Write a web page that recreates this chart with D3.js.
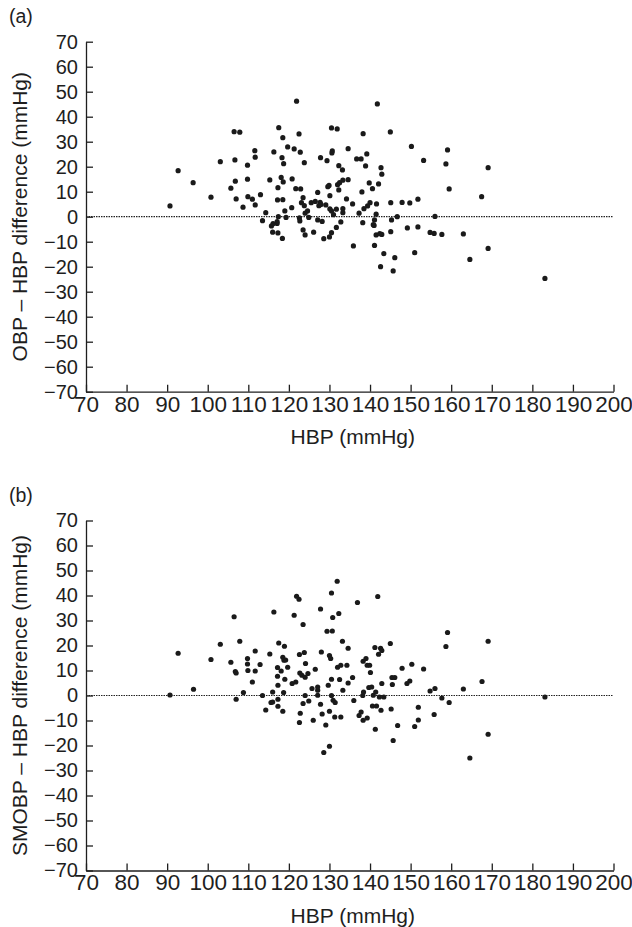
<!DOCTYPE html>
<html lang="en">
<head>
<meta charset="utf-8">
<title>Bland-Altman plots: OBP and SMOBP vs HBP</title>
<script src="https://d3js.org/d3.v7.min.js"></script>
<style>
    body { margin: 0; background: #fff; }
    text { font-family: "Liberation Sans", Arial, Helvetica, sans-serif; fill: #1e1e1e; }
    .axis path, .axis line { stroke: #1e1e1e; stroke-width: 1.3px; }
    .axis.y text { font-size: 20px; }
    .axis.x text { font-size: 22.5px; }
    .zero { stroke: #222; stroke-width: 1.2px; stroke-dasharray: 1.5,1; }
    .dot { fill: #1a1a1a; }
</style>
</head>
<body>
<div id="chart"></div>
<script>
    // tick labels
    const xTicks = [70, 80, 90, 100, 110, 120, 130, 140, 150, 160, 170, 180, 190, 200];
    const yTicks = [-70, -60, -50, -40, -30, -20, -10, 0, 10, 20, 30, 40, 50, 60, 70];

    // (a) OBP - HBP difference, [HBP, difference]
    const obpDiff = [
        [90.7,4.3],[92.7,18.4],[96.4,13.6],[100.8,7.8],[103.1,22],[106.5,34],[107.9,33.8],[106.7,22.7],[109.8,20.6],[111.6,26.4],
        [111.7,23.8],[106.8,14.2],[109.8,15],[105.7,11.4],[107,7.1],[109.9,8],[111,7],[108.7,3.8],[111.7,4.7],[113,8.8],
        [121.9,46.2],[141.8,45.1],[117.5,35.6],[122.5,33.1],[118.5,31.6],[130.5,35.5],[131.9,35.1],[138.3,33.2],[145,33.9],[150.2,28.1],
        [116.3,25.9],[119.7,27.9],[121.3,27.1],[122.8,25.8],[118.3,23.6],[118.7,21.2],[123.8,21.6],[130.7,26.3],[130.6,25.5],[134.6,27.2],
        [127.8,23.6],[129.4,22.4],[136.7,23.1],[137.8,23.1],[139.2,25.1],[138.9,20.3],[142.7,19.6],[142.9,17],[132.3,20.4],[133.2,18.7],
        [115.3,14.7],[118.1,15.7],[118.6,13.9],[117.3,11.6],[120.8,15.1],[121.7,11.2],[122.9,11.1],[117.2,6.7],[118.5,6.8],[119,2.3],
        [120.7,3.6],[123.5,7.6],[123.1,5.6],[123.8,4.4],[125.5,5.6],[126.5,6.1],[127.1,9.7],[127.7,5.7],[127.4,4.4],[127.9,4.9],
        [129.1,4.7],[129.6,12],[129.9,12.5],[130.1,8.4],[132,12.8],[132.5,13.6],[133.3,14.6],[134.6,14.8],[132.3,10.7],[134.2,7.1],
        [135.7,5.1],[138,9.9],[139.8,13.5],[140.6,11.2],[142.1,13.1],[141.6,5.1],[140,5.6],[139.4,4.3],[138.5,3.2],[137.3,1.4],
        [138.2,-2.4],[145.1,5.6],[147.9,5.7],[149.8,5.5],[151.8,7],[146.7,0],[145.3,-1.3],[141.5,1],[141.1,-1.3],[140.8,-3.2],
        [141,-3.5],[141.5,-7.3],[142.4,-6.8],[142.9,-7.1],[145.1,-6],[149.2,-4.5],[151.8,-4.1],[133.3,3.2],[133.3,1.6],[131.7,3],
        [131,0.8],[130.5,2.3],[130.1,3.1],[132.8,-2.1],[131.7,-4.3],[130.5,-6.4],[130,-8.1],[128.6,-8.8],[128.2,-1.9],[127.1,-1.3],
        [126.1,-6.2],[124.9,-0.3],[124.6,2.3],[124,1.4],[124,-7.3],[123.5,-5.3],[122.7,-1.7],[122.6,-0.5],[119.3,-0.3],[117.4,0],
        [117.1,-2],[117.1,-2.7],[116.1,-2.8],[115.7,-3.7],[116,-6.2],[117.3,-6.5],[118.4,-8.7],[113.5,-1.6],[114.3,1.6],
        [159.1,26.7],[153.2,22.5],[158.7,21.1],[169.1,19.6],[159.5,11.1],[167.5,8],[156,0.1],[154.8,-6.3],[155.8,-6.7],[157.7,-7.1],
        [163,-6.9],[151,-14.4],[169.1,-12.7],[164.6,-17.1],[183.1,-24.7],
        [135.9,-11.7],[141.1,-11.5],[143.4,-14.8],[146.1,-16.4],[142.6,-20],[145.7,-21.7]
    ];

    // (b) SMOBP - HBP difference, [HBP, difference]
    const smobpDiff = [
        [106.5,31.5],[107.9,21.7],[103.1,20.5],[92.7,16.9],[100.8,14.4],[105.7,13.3],[111.7,17.8],[109.8,14.8],[109.8,12.6],[109.9,10],
        [111.7,9.8],[106.8,9.6],[107,9],[111,5.4],[112.9,12.4],[96.5,2.5],
        [90.7,0.2],[107,-1.5],[108.8,1.2],[113.5,0],[114.3,-5.8],[116,1.4],[117.3,4.1],[115.6,-2.8],[116,-2.6],[117.3,-1.5],
        [117.3,-4.3],[118.5,-6.3],[118.7,1.2],[120.8,4.8],[121.7,5.4],[122.8,-7.1],[122.6,-10.8],[123.5,-3.2],[124,0],[124.9,-2.2],
        [125.7,2.8],[126,-9.9],[127.1,3.4],[127.1,2.1],[127.1,0.1],[127.8,-3.5],[128.2,-7.4],[129.1,-11.8],[129.7,4.1],[130,-6.3],
        [130.5,0],[130.9,-1.9],[131.4,-2.8],[131.3,-8.6],[132.8,-8.6],[133.3,2.1],[134.6,5],[136,-2],[137.3,-8],[137.8,-6.6],
        [138.2,0],[138.4,1.4],[138.3,-9.9],[139.3,-9],[139.7,3.2],[140.4,3.4],[140.8,0.1],[141.4,1.4],[140.6,-4.2],[141.6,-4.2],
        [141.3,-13.5],[142.3,-0.6],[143.4,-0.6],[142.7,-5.9],[142.9,4.8],[145.2,-5.4],[145.5,4.4],[146.8,-12],[145.7,-18],[149.1,4.8],
        [128.6,-22.8],[130,-20.3],
        [131.9,45.7],[130.5,41],[141.9,39.6],[121.9,39.7],[122.5,38.5],[136.9,37.2],[116.3,33.4],[127.8,34.6],[132.3,32.8],[121.3,32.1],
        [130.8,31.2],[123.5,28.4],[129.4,25.7],[130.7,25.8],[133.2,21.7],[134.6,18.9],[117.5,21],[118.9,19.7],
        [115.3,16.6],[118.5,15.3],[118.8,14.1],[119.2,14.2],[117.2,11.2],[118.1,9.8],[119.7,11.3],[117.2,7.7],[119,6.5],
        [122.6,16.4],[123.8,17.2],[124.1,12.8],[122.7,9],[123.2,8.1],[124,7.3],[124.7,8.8],[126.5,10.5],[128,17.4],
        [130,16],[130.3,14.8],[130.5,6.5],[132,11.3],[132.8,12.1],[132.5,6.4],[134.3,12.1],[135.7,7.2],
        [138.3,13.7],[139,14.8],[139.3,12.1],[139.9,12.1],[140.1,9.2],[141.2,19.2],[142.6,18.9],[142.9,18],[142.1,16.5],[145,20.8],
        [145.4,7.2],[146.1,7.2],[147.9,10.9],[150.3,12.5],[149.8,5.8],
        [159.1,25.2],[158.7,19.6],[169.1,21.7],[153.2,10.6],[154.8,1.8],[156,2.8],[157.7,-1],[159.5,-2.8],[163,2.6],[167.6,5.6],
        [183.1,-0.6],[151.9,-4.7],[151.9,-9.8],[151,-12.4],[155.8,-7.6],[169.1,-15.5],[164.6,-25]
    ];

    const width = 632, height = 927;
    const plotLeft = 86, plotRight = 613.5, plotH = 350;

    const panels = [
        {tag: "(a)", title: "OBP \u2013 HBP difference (mmHg)", points: obpDiff, top: 41.7},
        {tag: "(b)", title: "SMOBP \u2013 HBP difference (mmHg)", points: smobpDiff, top: 520.5}
    ];

    const svg = d3.select("#chart").append("svg")
        .attr("width", width)
        .attr("height", height);

    const x = d3.scaleLinear().domain([70, 200]).range([plotLeft, plotRight]);

    panels.forEach(p => {
        const y = d3.scaleLinear().domain([-70, 70]).range([p.top + plotH, p.top]);
        const g = svg.append("g");

        // panel tag
        g.append("text")
            .attr("x", 9)
            .attr("y", p.top - 19)
            .style("font-size", "19.5px")
            .text(p.tag);

        // zero reference line
        g.append("line")
            .attr("class", "zero")
            .attr("x1", x(70)).attr("x2", x(200))
            .attr("y1", y(0)).attr("y2", y(0));

        // axes, ticks point inward
        g.append("g")
            .attr("class", "axis y")
            .attr("transform", `translate(${plotLeft},0)`)
            .call(d3.axisLeft(y).tickValues(yTicks).tickSize(-7).tickSizeOuter(0).tickPadding(8));

        g.append("g")
            .attr("class", "axis x")
            .attr("transform", `translate(0,${p.top + plotH})`)
            .call(d3.axisBottom(x).tickValues(xTicks).tickSize(-7).tickSizeOuter(0).tickPadding(4));

        g.selectAll(".axis text").attr("font-family", null).attr("font-size", null);

        // points
        g.selectAll("circle")
            .data(p.points)
            .enter()
            .append("circle")
            .attr("class", "dot")
            .attr("cx", d => x(d[0]))
            .attr("cy", d => y(d[1]))
            .attr("r", 2.6);

        // axis titles
        g.append("text")
            .attr("x", (plotLeft + plotRight) / 2 + 3)
            .attr("y", p.top + plotH + 52)
            .attr("text-anchor", "middle")
            .style("font-size", "21px")
            .text("HBP (mmHg)");

        g.append("text")
            .attr("transform", `translate(26.5,${p.top + plotH / 2}) rotate(-90)`)
            .attr("text-anchor", "middle")
            .style("font-size", "21px")
            .text(p.title);
    });
</script>
</body>
</html>
